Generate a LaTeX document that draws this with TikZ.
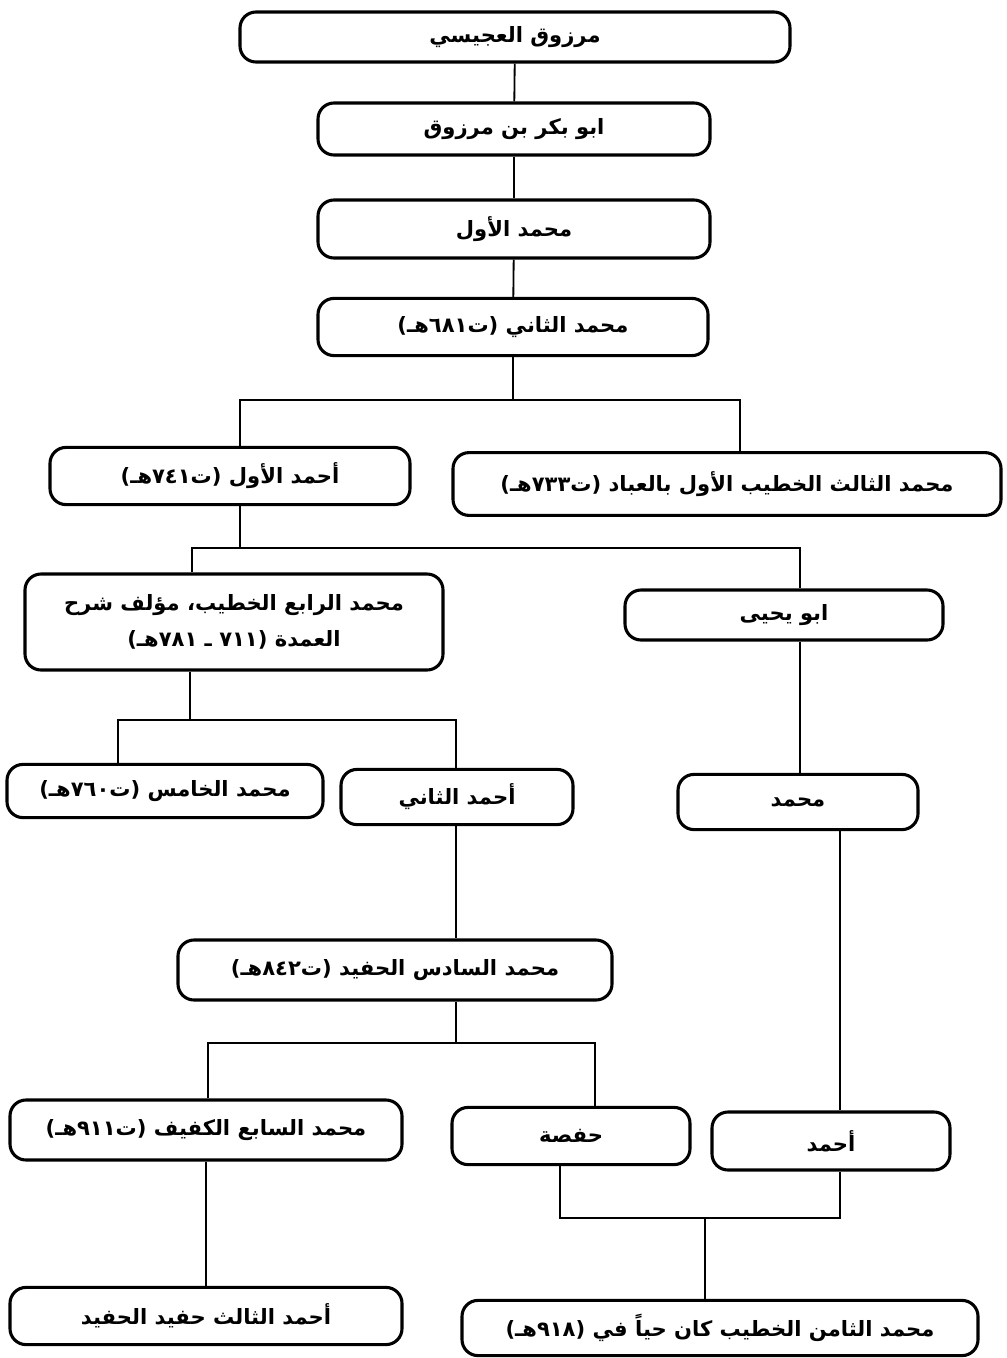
\documentclass[tikz,border=0pt]{standalone}
\usepackage{fontspec}
\newfontfamily\arabicfont[Script=Arabic]{DejaVu Sans}
\TeXXeTstate=1

\begin{document}
\begin{tikzpicture}[
            every node/.style={draw,rounded corners=4mm,line width=2.2pt,
                font=\arabicfont\bfseries\fontsize{15}{26}\selectfont,align=center}
        ]
        \useasboundingbox (0,0) rectangle (25.175,-33.95);

        \node[minimum width=13.75cm,minimum height=1.25cm] (a) at (12.875,-0.925)  {\beginR مرزوق العجيسي\endR};
        \node[minimum width=9.8cm,minimum height=1.3cm]    (b) at (12.85,-3.225)   {\beginR ابو بكر بن مرزوق\endR};
        \node[minimum width=9.8cm,minimum height=1.45cm]   (c) at (12.85,-5.725)   {\beginR محمد الأول\endR};
        \node[minimum width=9.75cm,minimum height=1.43cm]  (d) at (12.825,-8.175)  {\beginR محمد الثاني (ت٦٨١هـ)\endR};
        \node[minimum width=9cm,minimum height=1.43cm]     (e) at (5.75,-11.9)     {\beginR أحمد الأول (ت٧٤١هـ)\endR};
        \node[minimum width=13.7cm,minimum height=1.57cm]  (f) at (18.175,-12.1)   {\beginR محمد الثالث الخطيب الأول بالعباد (ت٧٣٣هـ)\endR};
        \node[minimum width=10.45cm,minimum height=2.4cm]  (g) at (5.85,-15.55)    {\beginR محمد الرابع الخطيب، مؤلف شرح\endR\\\beginR العمدة (٧١١ ـ ٧٨١هـ)\endR};
        \node[minimum width=7.95cm,minimum height=1.25cm]  (h) at (19.6,-15.375)   {\beginR ابو يحيى\endR};
        \node[minimum width=7.9cm,minimum height=1.33cm]   (i) at (4.125,-19.775)  {\beginR محمد الخامس (ت٧٦٠هـ)\endR};
        \node[minimum width=5.8cm,minimum height=1.38cm]   (j) at (11.425,-19.925) {\beginR أحمد الثاني\endR};
        \node[minimum width=6cm,minimum height=1.38cm]     (k) at (19.95,-20.05)   {\beginR محمد\endR};
        \node[minimum width=10.85cm,minimum height=1.5cm]  (l) at (9.875,-24.25)   {\beginR محمد السادس الحفيد (ت٨٤٢هـ)\endR};
        \node[minimum width=9.8cm,minimum height=1.5cm]    (m) at (5.15,-28.25)    {\beginR محمد السابع الكفيف (ت٩١١هـ)\endR};
        \node[minimum width=5.95cm,minimum height=1.43cm]  (n) at (14.275,-28.4)   {\beginR حفصة\endR};
        \node[minimum width=5.95cm,minimum height=1.45cm]  (o) at (20.775,-28.525) {\beginR أحمد\endR};
        \node[minimum width=9.8cm,minimum height=1.43cm]   (p) at (5.15,-32.9)     {\beginR أحمد الثالث حفيد الحفيد\endR};
        \node[minimum width=12.9cm,minimum height=1.38cm]  (q) at (18,-33.2)       {\beginR محمد الثامن الخطيب كان حياً في (٩١٨هـ)\endR};

        \coordinate (s1l) at (6,-10);
        \coordinate (s1r) at (18.5,-10);
        \coordinate (s2)  at (6,-13.7);
        \coordinate (s2l) at (4.8,-13.7);
        \coordinate (s2r) at (20,-13.7);
        \coordinate (s3)  at (4.75,-18);
        \coordinate (s3l) at (2.95,-18);
        \coordinate (s3r) at (11.4,-18);
        \coordinate (s4l) at (5.2,-26.075);
        \coordinate (s4r) at (14.875,-26.075);
        \coordinate (s5l) at (14,-30.45);
        \coordinate (s5)  at (17.625,-30.45);
        \coordinate (s5r) at (21,-30.45);

        \draw[line width=1.3pt] (a) -- (b);
        \draw[line width=1.3pt] (b) -- (c);
        \draw[line width=1.3pt] (c) -- (d);
        \draw[line width=1.3pt] (d) -- (d |- s1l);
        \draw[line width=1.3pt] (e.north -| s1l) -- (s1l) -- (s1r) -- (f.north -| s1r);
        \draw[line width=1.3pt] (e.south -| s2) -- (s2);
        \draw[line width=1.3pt] (g.north -| s2l) -- (s2l) -- (s2r) -- (h.north -| s2r);
        \draw[line width=1.3pt] (g.south -| s3) -- (s3);
        \draw[line width=1.3pt] (i.north -| s3l) -- (s3l) -- (s3r) -- (j.north -| s3r);
        \draw[line width=1.3pt] (h.south -| s2r) -- (k.north -| s2r);
        \draw[line width=1.3pt] (j.south -| s3r) -- (l.north -| s3r);
        \draw[line width=1.3pt] (l.south -| s3r) -- (s3r |- s4l);
        \draw[line width=1.3pt] (m.north -| s4l) -- (s4l) -- (s4r) -- (n.north -| s4r);
        \draw[line width=1.3pt] (k.south -| s5r) -- (o.north -| s5r);
        \draw[line width=1.3pt] (m) -- (p);
        \draw[line width=1.3pt] (n.south -| s5l) -- (s5l) -- (s5r) -- (o.south -| s5r);
        \draw[line width=1.3pt] (s5) -- (q.north -| s5);
    \end{tikzpicture}
\end{document}
